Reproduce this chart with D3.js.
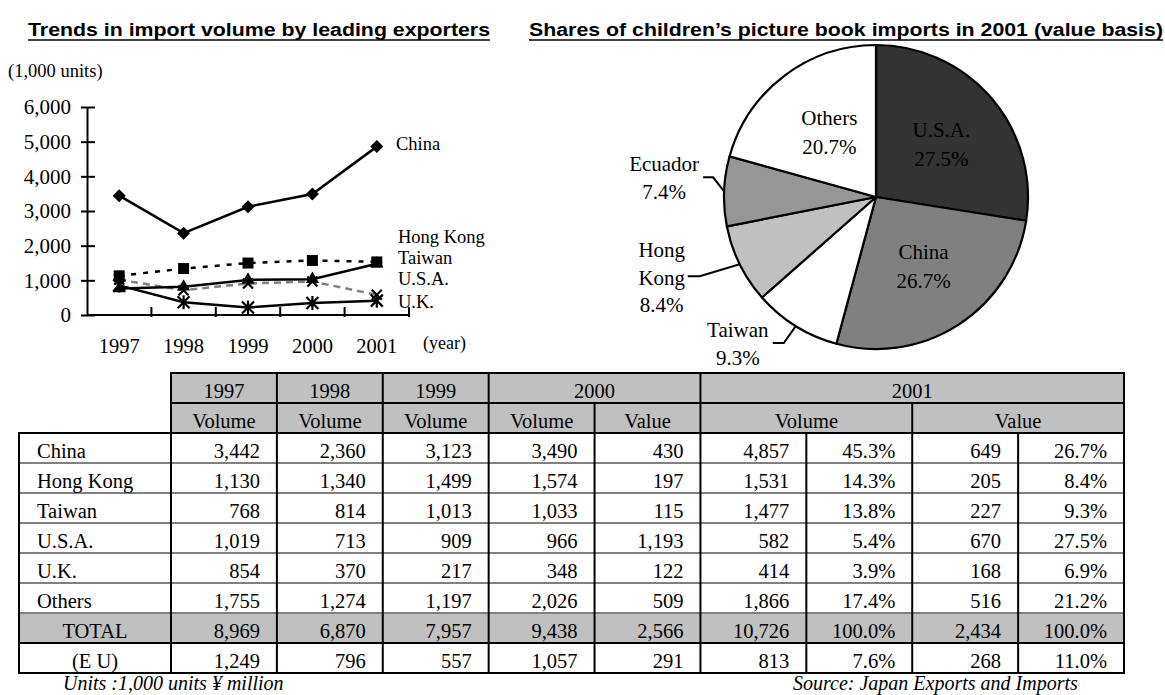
<!DOCTYPE html>
<html><head><meta charset="utf-8">
<script src="https://cdn.jsdelivr.net/npm/d3@7"></script>
<style>
body{margin:0;background:#fff}
svg{display:block}
text{font-family:"Liberation Serif","Times New Roman",Times,serif;fill:#000}
</style>
</head><body>
<svg id="c" width="1165" height="695"></svg>
<script>
// ---------------- DATA ----------------
const years = ["1997","1998","1999","2000","2001"];
const seriesNames = ["China","Hong Kong","Taiwan","U.S.A.","U.K."];
const chinaVol    = [3442, 2360, 3123, 3490, 4857];
const hongKongVol = [1130, 1340, 1499, 1574, 1531];
const taiwanVol   = [768, 814, 1013, 1033, 1477];
const usaVol      = [1019, 713, 909, 966, 582];
const ukVol       = [854, 370, 217, 348, 414];
const yTicks = [0, 1000, 2000, 3000, 4000, 5000, 6000];

const pieLabels = ["U.S.A.","China","Taiwan","Hong Kong","Ecuador","Others"];
const pieShares = [27.5, 26.7, 9.3, 8.4, 7.4, 20.7];

const headerYears = ["1997","1998","1999","2000","2001"];
const rowLabels = ["China","Hong Kong","Taiwan","U.S.A.","U.K.","Others","TOTAL","(E U)"];
const vol1997 = [3442,1130,768,1019,854,1755,8969,1249];
const vol1998 = [2360,1340,814,713,370,1274,6870,796];
const vol1999 = [3123,1499,1013,909,217,1197,7957,557];
const vol2000 = [3490,1574,1033,966,348,2026,9438,1057];
const val2000 = [430,197,115,1193,122,509,2566,291];
const vol2001 = [4857,1531,1477,582,414,1866,10726,813];
const volShare2001 = [45.3,14.3,13.8,5.4,3.9,17.4,100.0,7.6];
const val2001 = [649,205,227,670,168,516,2434,268];
const valShare2001 = [26.7,8.4,9.3,27.5,6.9,21.2,100.0,11.0];

// ---------------- SETUP ----------------
const svg = d3.select("#c");

function title(txt, x0, w, yb){
  svg.append("text").attr("x", x0).attr("y", yb)
    .attr("textLength", w).attr("lengthAdjust","spacingAndGlyphs")
    .style("font-family","'Liberation Sans Narrow','Arial Narrow','Liberation Sans',Arial,sans-serif")
    .style("font-weight","bold").style("font-size","18px").text(txt);
  svg.append("line").attr("x1",x0).attr("x2",x0+w).attr("y1",yb+4).attr("y2",yb+4)
    .attr("stroke","#000").attr("stroke-width",1.6);
}
title("Trends in import volume by leading exporters", 28, 462, 36);
title("Shares of children\u2019s picture book imports in 2001 (value basis)", 529, 634, 36);

// ---------------- LINE CHART ----------------
const x = d3.scaleBand().domain(years).range([87, 409]);
const y = d3.scaleLinear().domain([0, 6000]).range([315, 107]);
const cx = d => x(d) + x.bandwidth()/2;

svg.append("text").attr("x", 8).attr("y", 77).style("font-size","18.5px").text("(1,000 units)");

const yAx = svg.append("g").attr("transform","translate(87,0)")
  .call(d3.axisLeft(y).tickValues(yTicks).tickFormat(d3.format(","))
        .tickSizeInner(-8).tickSizeOuter(0).tickPadding(16));
yAx.select(".domain").attr("stroke","#000").attr("stroke-width",2);
yAx.selectAll(".tick line").attr("x1",-6).attr("stroke","#000").attr("stroke-width",2);
yAx.selectAll(".tick text").style("font-size","21px")
  .style("font-family","'Liberation Serif','Times New Roman',serif").attr("fill","#000");

// x axis
svg.append("line").attr("x1",87).attr("x2",409).attr("y1",y(0)).attr("y2",y(0))
  .attr("stroke","#000").attr("stroke-width",2);
const bounds = years.map(d => x(d)).concat([x.range()[1]]);
svg.append("g").selectAll("line").data(bounds.slice(1)).join("line")
  .attr("x1",d=>d).attr("x2",d=>d).attr("y1",y(0)-8).attr("y2",y(0)+2)
  .attr("stroke","#000").attr("stroke-width",2);
svg.append("g").selectAll("text").data(years).join("text")
  .attr("x",d=>cx(d)).attr("y",353).attr("text-anchor","middle")
  .style("font-size","20.5px").text(d=>d);
svg.append("text").attr("x",423).attr("y",349).style("font-size","18px").text("(year)");

const lineGen = d3.line().x((d,i)=>cx(years[i])).y(d=>y(d));
const seriesDefs = [
  {name:"U.S.A.", vals:usaVol, color:"#808080", dash:"7,5", marker:"x"},
  {name:"Hong Kong", vals:hongKongVol, color:"#000", dash:"5,7", marker:"square"},
  {name:"Taiwan", vals:taiwanVol, color:"#000", dash:null, marker:"triangle"},
  {name:"U.K.", vals:ukVol, color:"#000", dash:null, marker:"star"},
  {name:"China", vals:chinaVol, color:"#000", dash:null, marker:"diamond"}
];
seriesDefs.forEach(s=>{
  svg.append("path").attr("d", lineGen(s.vals)).attr("fill","none")
    .attr("stroke", s.color).attr("stroke-width",2.5)
    .attr("stroke-dasharray", s.dash);
});
seriesDefs.forEach(s=>{
  const g = svg.append("g");
  s.vals.forEach((v,i)=>{
    const px = cx(years[i]), py = y(v);
    const m = g.append("g").attr("transform",`translate(${px},${py})`);
    if (s.marker==="diamond") m.append("path").attr("d","M0,-6.5L6.5,0L0,6.5L-6.5,0Z").attr("fill","#000");
    if (s.marker==="square") m.append("rect").attr("x",-5.5).attr("y",-5.5).attr("width",11).attr("height",11).attr("fill","#000");
    if (s.marker==="triangle") m.append("path").attr("d",d3.symbol(d3.symbolTriangle,75)()).attr("fill","#000");
    if (s.marker==="x") m.append("path").attr("d","M-5,-5L5,5M-5,5L5,-5").attr("stroke","#000").attr("stroke-width",2.2);
    if (s.marker==="star") m.append("path").attr("d","M-6,-6L6,6M-6,6L6,-6M0,-7L0,7").attr("stroke","#000").attr("stroke-width",2.2);
  });
});
const seriesLabelY = {"China":150,"Hong Kong":243,"Taiwan":264,"U.S.A.":285,"U.K.":308};
svg.append("g").selectAll("text").data(seriesNames).join("text")
  .attr("x", d=> d==="China"?396:398).attr("y", d=>seriesLabelY[d])
  .style("font-size","18.5px").text(d=>d);

// ---------------- PIE ----------------
const pcx = 876, pcy = 197, R = 152;
const pieColors = ["#333333","#808080","#ffffff","#c0c0c0","#969696","#ffffff"];
const pieTextColors = ["#fff","#111","#000","#000","#000","#000"];
const arcs = d3.pie().sort(null).value(d=>d)(pieShares);
const arc = d3.arc().innerRadius(0).outerRadius(R);
const pg = svg.append("g").attr("transform",`translate(${pcx},${pcy})`);
pg.selectAll("path").data(arcs).join("path").attr("d",arc)
  .attr("fill",(d,i)=>pieColors[i]).attr("stroke","#000").attr("stroke-width",2.2)
  .attr("stroke-linejoin","round");

const inArc = d3.arc().innerRadius(82).outerRadius(82);
const fmtPct = d => d3.format(".1f")(d) + "%";
// inner labels
arcs.forEach((a,i)=>{
  const lab = pieLabels[i];
  if (["U.S.A.","China","Others"].includes(lab)) {
    const [lx,ly] = inArc.centroid(a);
    const t = pg.append("text").attr("text-anchor","middle").style("font-size","21px")
      .attr("fill",pieTextColors[i]);
    t.append("tspan").attr("x",lx+3).attr("y",ly-7).text(lab);
    t.append("tspan").attr("x",lx+3).attr("y",ly+22).text(fmtPct(pieShares[i]));
  }
});
// outer labels with leader lines
const outerCfg = {
  "Ecuador":  {elbow:[-11,-14], end:[-21,-14], tx:-39, lines:["Ecuador"], base:-6},
  "Hong Kong":{elbow:[-40,12], end:[-52,12], tx:-26, lines:["Hong","Kong"], base:-19},
  "Taiwan":   {elbow:[-12,17], end:[-23,17], tx:-35, lines:["Taiwan"], base:-6}
};
const edgeArc = d3.arc().innerRadius(R).outerRadius(R);
arcs.forEach((a,i)=>{
  const lab = pieLabels[i];
  const c = outerCfg[lab];
  if (!c) return;
  const [ex,ey] = edgeArc.centroid(a);
  const el = [ex+c.elbow[0], ey+c.elbow[1]];
  const en = [ex+c.end[0], ey+c.end[1]];
  pg.append("path").attr("d",`M${ex},${ey}L${el[0]},${el[1]}L${en[0]},${en[1]}`)
    .attr("fill","none").attr("stroke","#000").attr("stroke-width",2);
  const t = pg.append("text").attr("text-anchor","middle").style("font-size","21px");
  const tx = en[0]+c.tx;
  const all = c.lines.concat([fmtPct(pieShares[i])]);
  all.forEach((s,k)=>{
    t.append("tspan").attr("x",tx).attr("y",en[1]+c.base+k*27.5).text(s);
  });
});

// ---------------- TABLE ----------------
const colX = d3.scaleLinear().domain([0,9]).range([171,1124]);
const rowY = d3.scaleLinear().domain([0,10]).range([373,673]);
const tableLeft = 19;
const tg = svg.append("g");
const fmtN = d3.format(",");
const dataCols = [
  {vals:vol1997, f:fmtN},{vals:vol1998, f:fmtN},{vals:vol1999, f:fmtN},
  {vals:vol2000, f:fmtN},{vals:val2000, f:fmtN},
  {vals:vol2001, f:fmtN},{vals:volShare2001, f:fmtPct},
  {vals:val2001, f:fmtN},{vals:valShare2001, f:fmtPct}
];
const header1 = [
  {c0:0,c1:1,t:headerYears[0]},{c0:1,c1:2,t:headerYears[1]},{c0:2,c1:3,t:headerYears[2]},
  {c0:3,c1:5,t:headerYears[3]},{c0:5,c1:9,t:headerYears[4]}
];
const header2 = [
  {c0:0,c1:1,t:"Volume"},{c0:1,c1:2,t:"Volume"},{c0:2,c1:3,t:"Volume"},
  {c0:3,c1:4,t:"Volume"},{c0:4,c1:5,t:"Value"},{c0:5,c1:7,t:"Volume"},{c0:7,c1:9,t:"Value"}
];
// backgrounds
tg.append("rect").attr("x",colX(0)).attr("y",rowY(0)).attr("width",colX(9)-colX(0))
  .attr("height",rowY(2)-rowY(0)).attr("fill","#c0c0c0");
const totalIdx = rowLabels.indexOf("TOTAL");
tg.append("rect").attr("x",tableLeft).attr("y",rowY(2+totalIdx)).attr("width",colX(9)-tableLeft)
  .attr("height",rowY(3+totalIdx)-rowY(2+totalIdx)).attr("fill","#c0c0c0");

// horizontal inner lines for data rows
for (let r=1; r<rowLabels.length; r++){
  tg.append("line").attr("x1",tableLeft).attr("x2",colX(9))
    .attr("y1",rowY(2+r)).attr("y2",rowY(2+r))
    .attr("stroke", r===totalIdx+1 ? "#000" : "#808080").attr("stroke-width",2);
}
// header lines
tg.append("line").attr("x1",colX(0)).attr("x2",colX(9)).attr("y1",rowY(1)).attr("y2",rowY(1))
  .attr("stroke","#000").attr("stroke-width",2);
header1.forEach(h=>{
  tg.append("line").attr("x1",colX(h.c1)).attr("x2",colX(h.c1)).attr("y1",rowY(0)).attr("y2",rowY(1))
    .attr("stroke","#000").attr("stroke-width",2);
  tg.append("text").attr("x",(colX(h.c0)+colX(h.c1))/2).attr("y",rowY(0)+25)
    .attr("text-anchor","middle").style("font-size","20.5px").text(h.t);
});
header2.forEach(h=>{
  tg.append("line").attr("x1",colX(h.c1)).attr("x2",colX(h.c1)).attr("y1",rowY(1)).attr("y2",rowY(2))
    .attr("stroke","#000").attr("stroke-width",2);
  tg.append("text").attr("x",(colX(h.c0)+colX(h.c1))/2).attr("y",rowY(1)+25)
    .attr("text-anchor","middle").style("font-size","20.5px").text(h.t);
});
// data vertical lines
for (let c=0; c<=9; c++){
  tg.append("line").attr("x1",colX(c)).attr("x2",colX(c)).attr("y1",rowY(2)).attr("y2",rowY(10))
    .attr("stroke","#000").attr("stroke-width",2);
}
// borders
tg.append("rect").attr("x",colX(0)).attr("y",rowY(0)).attr("width",colX(9)-colX(0))
  .attr("height",rowY(2)-rowY(0)).attr("fill","none").attr("stroke","#000").attr("stroke-width",2);
tg.append("rect").attr("x",tableLeft).attr("y",rowY(2)).attr("width",colX(9)-tableLeft)
  .attr("height",rowY(10)-rowY(2)).attr("fill","none").attr("stroke","#000").attr("stroke-width",2);

// text
rowLabels.forEach((lab,r)=>{
  const centered = (lab==="TOTAL" || lab==="(E U)");
  tg.append("text").attr("x", centered ? (tableLeft+colX(0))/2 : 37)
    .attr("y", rowY(2+r)+25).attr("text-anchor", centered?"middle":"start")
    .style("font-size","20.5px").text(lab);
  dataCols.forEach((col,c)=>{
    tg.append("text").attr("x", colX(c+1)-17).attr("y", rowY(2+r)+25)
      .attr("text-anchor","end").style("font-size","20.5px").text(col.f(col.vals[r]));
  });
});

svg.append("text").attr("x",63).attr("y",690).style("font-size","20px").style("font-style","italic")
  .text("Units :1,000 units \u00a5 million");
svg.append("text").attr("x",793).attr("y",690).style("font-size","20px").style("font-style","italic")
  .text("Source: Japan Exports and Imports");
</script>
</body></html>
